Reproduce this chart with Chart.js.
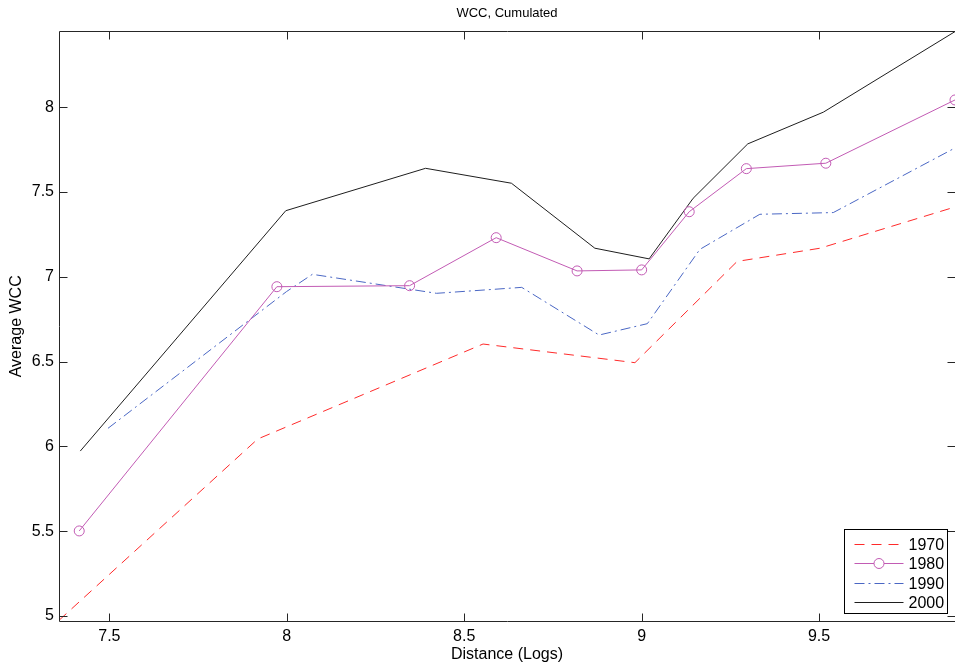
<!DOCTYPE html>
<html>
<head>
<meta charset="utf-8">
<title>WCC, Cumulated</title>
<style>
  html, body { margin: 0; padding: 0; background: #fff; }
  #wrap { width: 955px; height: 666px; }
</style>
<script src="https://cdn.jsdelivr.net/npm/chart.js@4/dist/chart.umd.min.js"></script>
</head>
<body>
<div id="wrap"><canvas id="c" width="955" height="666"></canvas></div>
<script>
// Average WCC against log distance, one curve per decade
const dist1970 = [7.358, 7.918, 8.553, 8.981, 9.269, 9.503, 9.883];
const wcc1970  = [4.975, 6.044, 6.604, 6.494, 7.091, 7.169, 7.412];

const dist1980 = [7.415, 7.972, 8.346, 8.590, 8.818, 9.000, 9.134, 9.295, 9.519, 9.883];
const wcc1980  = [5.502, 6.942, 6.948, 7.231, 7.035, 7.041, 7.384, 7.638, 7.670, 8.043];

const dist1990 = [7.496, 7.999, 8.072, 8.422, 8.662, 8.880, 9.016, 9.164, 9.333, 9.540, 9.883];
const wcc1990  = [6.107, 6.913, 7.015, 6.903, 6.938, 6.657, 6.724, 7.162, 7.369, 7.379, 7.760];

const dist2000 = [7.418, 7.997, 8.391, 8.633, 8.868, 9.021, 9.145, 9.299, 9.512, 9.883];
const wcc2000  = [5.973, 7.390, 7.640, 7.552, 7.169, 7.106, 7.463, 7.784, 7.971, 8.446];

const seriesLabels = ['1970', '1980', '1990', '2000'];
const xTicks = [7.5, 8, 8.5, 9, 9.5];
const yTicks = [5, 5.5, 6, 6.5, 7, 7.5, 8];

const FONT = '"Liberation Sans", Arial, Helvetica, sans-serif';

function pairs(xs, ys) {
  return xs.map((x, i) => ({ x: x, y: ys[i] }));
}

// Box around the axes, inward tick marks and the framed legend
const framePlugin = {
  id: 'frame',
  afterDatasetsDraw(chart) {
    const { ctx, chartArea: a, scales } = chart;
    const L = 8;
    const left = Math.floor(a.left) + 0.5;
    const top = Math.floor(a.top) + 0.5;
    const right = Math.floor(a.right) + 0.5;
    const bottom = Math.floor(a.bottom) + 0.5;
    ctx.save();
    ctx.strokeStyle = '#262626';
    ctx.lineWidth = 1;
    ctx.beginPath();
    ctx.moveTo(left, top); ctx.lineTo(right, top);
    ctx.moveTo(left, top); ctx.lineTo(left, bottom);
    ctx.moveTo(left, bottom); ctx.lineTo(right, bottom);
    ctx.moveTo(right, top); ctx.lineTo(right, bottom);
    scales.x.ticks.forEach(t => {
      const px = Math.round(scales.x.getPixelForValue(t.value)) + 0.5;
      ctx.moveTo(px, bottom); ctx.lineTo(px, bottom - L);
      ctx.moveTo(px, top); ctx.lineTo(px, top + L);
    });
    scales.y.ticks.forEach(t => {
      const py = Math.round(scales.y.getPixelForValue(t.value)) + 0.5;
      ctx.moveTo(left, py); ctx.lineTo(left + L, py);
      ctx.moveTo(right, py); ctx.lineTo(right - L, py);
    });
    ctx.stroke();

    // legend
    const bw = 103, bh = 84;
    const bx = Math.floor(a.right - 8 - bw) + 0.5;
    const by = Math.floor(a.bottom - 8 - bh) + 0.5;
    ctx.fillStyle = '#fff';
    ctx.fillRect(bx, by, bw, bh);
    ctx.strokeStyle = '#000';
    ctx.strokeRect(bx, by, bw, bh);
    ctx.font = '16px ' + FONT;
    ctx.textBaseline = 'middle';
    ctx.textAlign = 'left';
    chart.data.datasets.forEach((ds, i) => {
      const cy = Math.round(by + 14 + i * 19.5) + 0.5;
      const x0 = bx + 10, x1 = bx + 59;
      ctx.save();
      ctx.strokeStyle = ds.borderColor;
      ctx.lineWidth = 1;
      ctx.setLineDash(ds.borderDash || []);
      ctx.beginPath();
      ctx.moveTo(x0, cy); ctx.lineTo(x1, cy);
      ctx.stroke();
      ctx.setLineDash([]);
      if (ds.pointRadius > 0) {
        ctx.beginPath();
        ctx.arc((x0 + x1) / 2, cy, ds.pointRadius, 0, Math.PI * 2);
        ctx.fillStyle = '#fff';
        ctx.fill();
        ctx.stroke();
      }
      ctx.restore();
      ctx.fillStyle = '#000';
      ctx.fillText(ds.label, bx + 64, cy + 1);
    });
    ctx.restore();
  }
};

const lineBase = { showLine: true, tension: 0, borderWidth: 1, fill: false, clip: 1 };

new Chart(document.getElementById('c'), {
  type: 'line',
  data: {
    datasets: [
      Object.assign({}, lineBase, {
        label: seriesLabels[0], data: pairs(dist1970, wcc1970),
        borderColor: '#ff2a2a', borderDash: [10, 7], pointRadius: 0
      }),
      Object.assign({}, lineBase, {
        label: seriesLabels[1], data: pairs(dist1980, wcc1980),
        borderColor: '#c25bb4', pointRadius: 5, pointStyle: 'circle',
        pointBorderColor: '#c25bb4', pointBackgroundColor: 'rgba(0,0,0,0)', pointBorderWidth: 1
      }),
      Object.assign({}, lineBase, {
        label: seriesLabels[2], data: pairs(dist1990, wcc1990),
        borderColor: '#4a67c4', borderDash: [10, 4, 2, 4], pointRadius: 0
      }),
      Object.assign({}, lineBase, {
        label: seriesLabels[3], data: pairs(dist2000, wcc2000),
        borderColor: '#1e1e1e', pointRadius: 0
      })
    ]
  },
  options: {
    responsive: false,
    animation: false,
    devicePixelRatio: 1,
    layout: { padding: 0, autoPadding: false },
    plugins: {
      legend: { display: false },
      tooltip: { enabled: false },
      title: {
        display: true,
        fullSize: false,
        text: 'WCC, Cumulated',
        color: '#000',
        font: { family: FONT, size: 13, weight: 'normal' },
        padding: { top: 6, bottom: 10 }
      }
    },
    scales: {
      x: {
        type: 'linear',
        min: 7.358, max: 9.883,
        grid: { display: false, drawTicks: false },
        border: { display: false },
        afterBuildTicks: s => { s.ticks = xTicks.map(v => ({ value: v })); },
        afterFit: s => { s.height = 45; s.paddingLeft = 0; s.paddingRight = 0; },
        ticks: {
          color: '#000', padding: 6, maxRotation: 0,
          font: { family: FONT, size: 16 },
          callback: v => String(v)
        },
        title: {
          display: true, text: 'Distance (Logs)', color: '#000',
          font: { family: FONT, size: 16 },
          padding: { top: 0, bottom: 2 }
        }
      },
      y: {
        type: 'linear',
        min: 4.971, max: 8.446,
        grid: { display: false, drawTicks: false },
        border: { display: false },
        afterBuildTicks: s => { s.ticks = yTicks.map(v => ({ value: v })); },
        afterFit: s => { s.width = 59; s.paddingTop = 0; s.paddingBottom = 0; },
        ticks: {
          color: '#000', padding: 5,
          font: { family: FONT, size: 16 },
          callback: v => String(v)
        },
        title: {
          display: true, text: 'Average WCC', color: '#000',
          font: { family: FONT, size: 16 },
          padding: { top: 7, bottom: 0 }
        }
      }
    }
  },
  plugins: [framePlugin]
});
</script>
</body>
</html>
